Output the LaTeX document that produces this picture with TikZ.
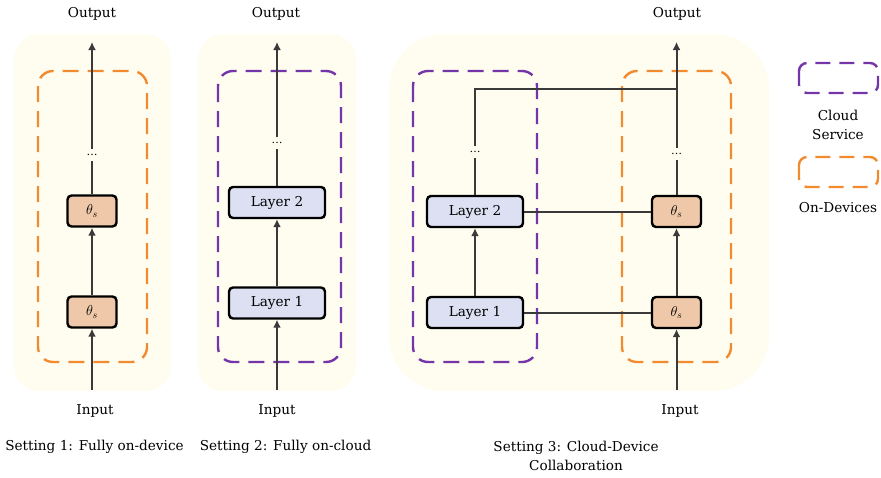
\documentclass[tikz,border=0pt]{standalone}
\usepackage{fontspec}
\setmainfont{DejaVu Serif}
\usetikzlibrary{arrows.meta}
\definecolor{bgcream}{HTML}{FEFDF0}
\definecolor{devorange}{HTML}{F28A30}
\definecolor{cloudpurple}{HTML}{7335A8}
\definecolor{peach}{HTML}{EEC8A8}
\definecolor{lavender}{HTML}{DCE0F2}
\definecolor{wire}{HTML}{3A3A3A}
\tikzset{
  txt/.style={font=\fontsize{13.6}{19}\selectfont, inner sep=0pt, align=center},
  panel/.style={fill=bgcream, draw=none},
  devbox/.style={draw=devorange, line width=2.4pt, dash pattern=on 16pt off 9pt, rounded corners=15pt},
  cloudbox/.style={draw=cloudpurple, line width=2.4pt, dash pattern=on 16pt off 9pt, rounded corners=15pt},
  theta/.style={draw=black, fill=peach, line width=2.4pt, rounded corners=4pt,
    minimum width=49pt, minimum height=31pt, inner sep=0pt, font=\fontsize{14}{16}\selectfont},
  layer/.style={draw=black, fill=lavender, line width=2.4pt, rounded corners=4pt,
    minimum width=96pt, minimum height=31pt, inner sep=0pt, font=\fontsize{13.6}{16}\selectfont},
  dotsnode/.style={inner sep=0pt, minimum height=11pt, font=\fontsize{11}{13}\selectfont},
  flow/.style={draw=wire, line width=2pt, -{Latex[length=8pt,width=8pt]}},
  link/.style={draw=wire, line width=2pt},
}
\begin{document}
\begin{tikzpicture}[x=1pt, y=-1pt]
\useasboundingbox (0,0) rectangle (881,477);

% panel backgrounds
\fill[panel, rounded corners=25pt] (14,34) rectangle (171,391);
\fill[panel, rounded corners=25pt] (198,34) rectangle (356,391);
\fill[panel, rounded corners=55pt] (389,34) rectangle (769,391);

% dashed groups
\draw[devbox] (38,71) rectangle (147,362);
\draw[cloudbox] (218,71) rectangle (341,362);
\draw[cloudbox] (413,71) rectangle (537,362);
\draw[devbox] (622,71) rectangle (731,362);

% ---------- Setting 1 ----------
\node[txt] (out1) at (92,14) {Output};
\node[txt] (in1) at (95,411) {Input};
\coordinate (src1) at (92,390);
\coordinate (tip1) at (92,42);
\node[theta] (a1) at (92,312) {$\theta_s$};
\node[theta] (a2) at (92,211) {$\theta_s$};
\node[dotsnode] (d1) at (92,155) {\ldots};
\draw[flow] (src1) -- (a1);
\draw[flow] (a1) -- (a2);
\draw[link] (a2) -- (d1);
\draw[flow] (d1) -- (tip1);
\node[txt] (cap1) at (94.5,447) {Setting 1: Fully on-device};

% ---------- Setting 2 ----------
\node[txt] (out2) at (276,14) {Output};
\node[txt] (in2) at (277,411) {Input};
\coordinate (src2) at (277,390);
\coordinate (tip2) at (277,42);
\node[layer] (b1) at (277,303) {Layer 1};
\node[layer] (b2) at (277,202.5) {Layer 2};
\node[dotsnode] (d2) at (277,143) {\ldots};
\draw[flow] (src2) -- (b1);
\draw[flow] (b1) -- (b2);
\draw[link] (b2) -- (d2);
\draw[flow] (d2) -- (tip2);
\node[txt] (cap2) at (285.5,447) {Setting 2: Fully on-cloud};

% ---------- Setting 3 ----------
\node[txt] (out3) at (677,14) {Output};
\node[txt] (in3) at (680,411) {Input};
\coordinate (src3) at (676.5,390);
\coordinate (tip3) at (676.5,42);
\coordinate (join) at (676.5,89);
\node[layer] (c1) at (475,312.5) {Layer 1};
\node[layer] (c2) at (475,211.5) {Layer 2};
\node[dotsnode] (cd) at (475,152) {\ldots};
\node[theta] (e1) at (676.5,312.5) {$\theta_s$};
\node[theta] (e2) at (676.5,211.5) {$\theta_s$};
\node[dotsnode] (ed) at (676.5,154) {\ldots};
\draw[flow] (c1) -- (c2);
\draw[link] (c2) -- (cd);
\draw[link] (cd) |- (join);
\draw[flow] (src3) -- (e1);
\draw[flow] (e1) -- (e2);
\draw[link] (e2) -- (ed);
\draw[flow] (ed) -- (tip3);
\draw[link] (c1) -- (e1);
\draw[link] (c2) -- (e2);
\node[txt] (cap3) at (576,456) {Setting 3: Cloud-Device\\Collaboration};

% ---------- legend ----------
\draw[cloudbox, rounded corners=8pt, dash pattern=on 15pt off 9pt] (799,63) rectangle (878,93);
\node[txt] (lg1) at (838,124.5) {Cloud\\Service};
\draw[devbox, rounded corners=8pt, dash pattern=on 15pt off 9pt] (799,157) rectangle (878,187);
\node[txt] (lg2) at (838,208) {On-Devices};
\end{tikzpicture}
\end{document}
